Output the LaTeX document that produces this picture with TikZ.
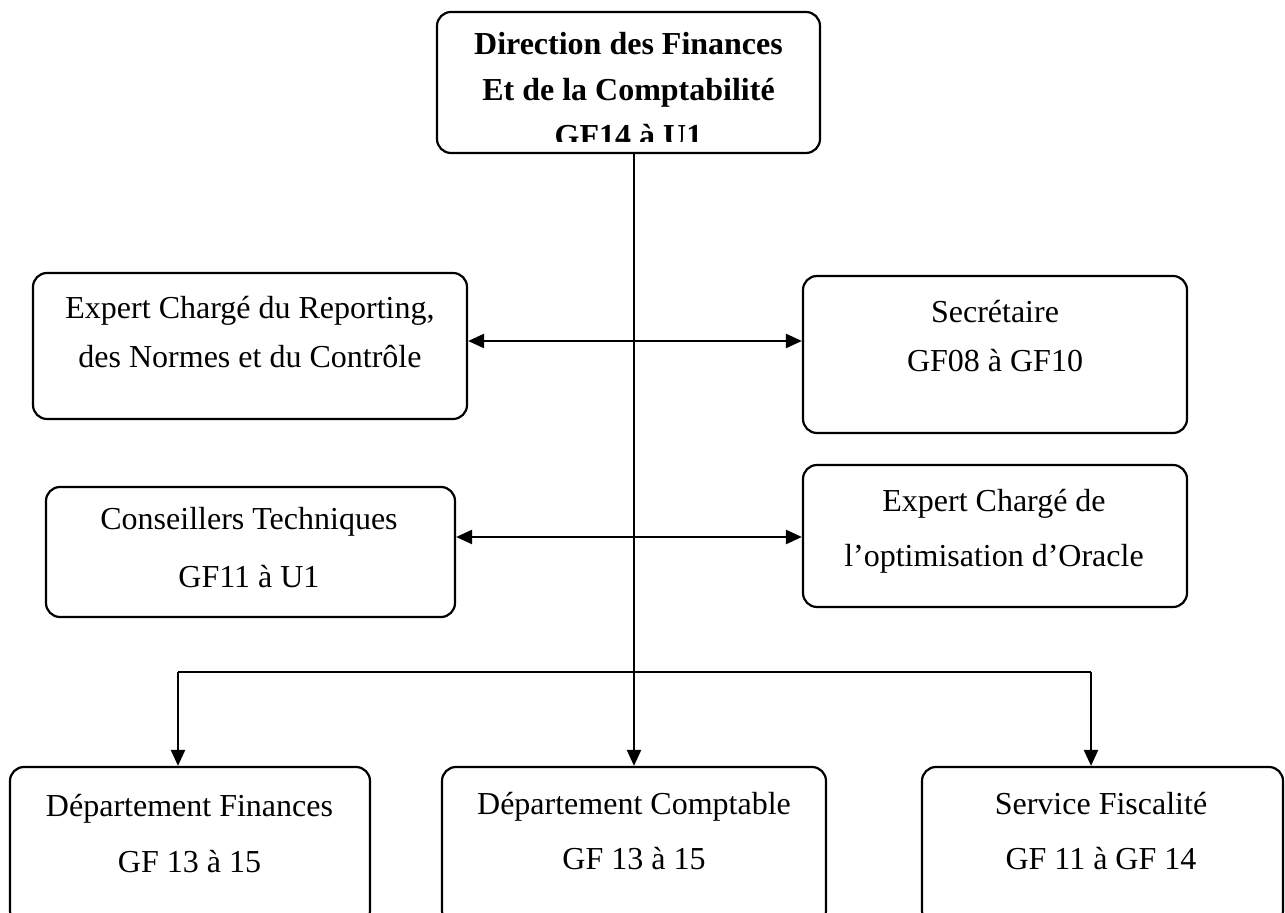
\documentclass[tikz,border=0pt]{standalone}
\usepackage{fontspec}
\setmainfont{Liberation Serif}
\usetikzlibrary{arrows.meta}
\tikzset{
  box/.style={draw, line width=1.1pt, rounded corners=7pt, inner sep=0pt},
  lbl/.style={anchor=north, inner sep=0pt, align=center, font=\fontsize{16}{#1}\selectfont},
  lbl/.default=27.5pt,
  link/.style={line width=1.2pt, -{Triangle[length=8pt,width=7pt]}},
  both/.style={line width=1.2pt, {Triangle[length=8pt,width=7pt]}-{Triangle[length=8pt,width=7pt]}},
}
\begin{document}
\begin{tikzpicture}[x=0.5pt, y=-0.5pt]
  \useasboundingbox (0,0) rectangle (1285,913);

  % top
  \node[box, minimum width=191.5pt, minimum height=70.5pt] (dir) at (628.5,82.5) {};
  \begin{scope}
    \clip (437,12) rectangle (820,142);
    \node[lbl=23pt, font=\fontsize{16}{23}\selectfont\bfseries] (dir-t) at (628.5,32)
      {Direction des Finances\\Et de la Comptabilité\\GF14 à U1};
  \end{scope}

  % staff
  \node[box, minimum width=217pt, minimum height=73pt] (rep) at (250,346) {};
  \node[lbl=24.5pt] (rep-t) at (250,296) {Expert Chargé du Reporting,\\des Normes et du Contrôle};
  \node[box, minimum width=192pt, minimum height=78.5pt] (sec) at (995,354.5) {};
  \node[lbl=24.5pt] (sec-t) at (995,300) {Secrétaire\\GF08 à GF10};
  \node[box, minimum width=204.5pt, minimum height=65pt] (cons) at (250.5,552) {};
  \node[lbl=29pt] (cons-t) at (249,507) {Conseillers Techniques\\GF11 à U1};
  \node[box, minimum width=192pt, minimum height=71pt] (ora) at (995,536) {};
  \node[lbl] (ora-t) at (994,489) {Expert Chargé de\\l’optimisation d’Oracle};

  % departments
  \node[box, minimum width=180pt, minimum height=79pt] (fin) at (190,846) {};
  \node[lbl=28pt] (fin-t) at (189.5,794) {Département Finances\\GF 13 à 15};
  \node[box, minimum width=192pt, minimum height=79pt] (cpt) at (634,846) {};
  \node[lbl] (cpt-t) at (634,792) {Département Comptable\\GF 13 à 15};
  \node[box, minimum width=180.5pt, minimum height=79pt] (fis) at (1102.5,846) {};
  \node[lbl] (fis-t) at (1101,792) {Service Fiscalité\\GF 11 à GF 14};

  % links
  \draw[link] (dir.south -| cpt.north) -- (cpt.north);
  \draw[both] ([yshift=2.5pt]rep.east) -- ([yshift=2.5pt]rep.east -| sec.west);
  \draw[both] ([yshift=7.5pt]cons.east) -- ([yshift=7.5pt]cons.east -| ora.west);
  \coordinate (busL) at (178,672);
  \coordinate (busR) at (1091,672);
  \draw[line width=1.2pt] (busL) -- (busR);
  \draw[link] (busL) -- (busL |- fin.north);
  \draw[link] (busR) -- (busR |- fis.north);
\end{tikzpicture}
\end{document}
